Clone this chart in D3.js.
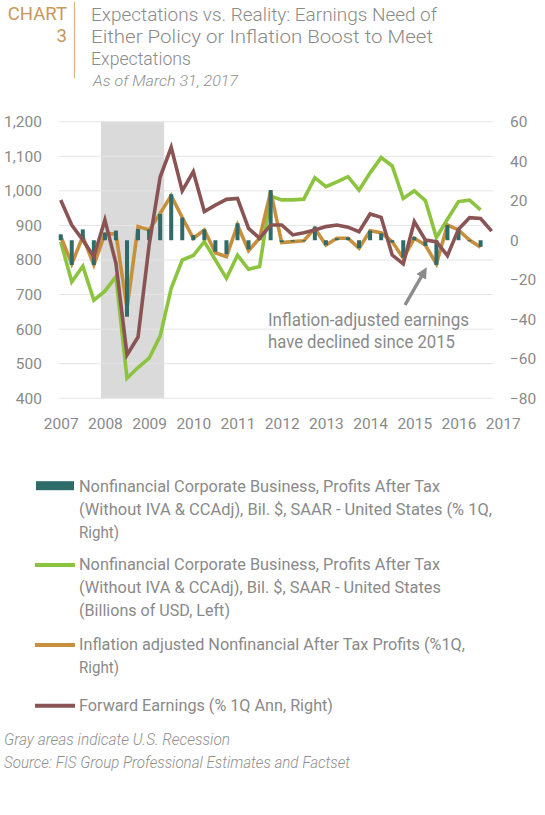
<!DOCTYPE html>
<html><head><meta charset="utf-8">
<script src="https://cdn.jsdelivr.net/npm/d3@7"></script>
<style>
html,body{margin:0;padding:0;background:#fff;}
svg{display:block;}
text{font-family:'Roboto',sans-serif;}
</style></head>
<body>
<svg id="c" width="545" height="815"></svg>
<script>
// ---------- data ----------
const quarters = ["2007Q1","2007Q2","2007Q3","2007Q4","2008Q1","2008Q2","2008Q3","2008Q4",
"2009Q1","2009Q2","2009Q3","2009Q4","2010Q1","2010Q2","2010Q3","2010Q4",
"2011Q1","2011Q2","2011Q3","2011Q4","2012Q1","2012Q2","2012Q3","2012Q4",
"2013Q1","2013Q2","2013Q3","2013Q4","2014Q1","2014Q2","2014Q3","2014Q4",
"2015Q1","2015Q2","2015Q3","2015Q4","2016Q1","2016Q2","2016Q3","2016Q4"];
// Nonfinancial profits after tax, % 1Q (right axis, bars)
const profitsPct = [3,-12.5,5.5,-12.5,3.8,4.9,-38.7,5.7,5.5,13.3,23.3,11.5,2.6,5.5,-5.8,-7,
8.6,-4.6,1,25.4,-1,-0.7,-0.5,6.9,-2.5,1,1.5,-4,4.9,3.5,-1.2,-8.8,1.7,-2.9,-12.5,7.7,5.6,-0.5,-3.3];
// Nonfinancial profits after tax, billions USD (left axis)
const profitsBil = [853,737,782,684,710,752,458,489,516,580,718,800,813,853,800,747,
814,773,781,985,974,974,976,1038,1012,1026,1041,1002,1052,1096,1072,978,1000,972,865,918,969,973,945];
// Inflation adjusted nonfinancial after tax profits, % 1Q (right)
const inflAdj = [2,-12,1.8,-12.5,3.2,3.2,-34.4,6.9,5.2,13.6,22.6,11.5,1,5.2,-6.3,-8.3,
7.7,-5.3,1,24.6,-1.2,-0.7,-0.3,6,-2.4,1,1,-4.1,4.8,3.8,-0.7,-9.1,1,-2.4,-12,7.7,5.2,0.1,-3.6];
// Forward earnings, % 1Q ann (right)
const fwdEarn = [20.4,7.7,0.1,-8.3,10.3,-11.7,-58,-49,-2.5,32,47,25,34.7,14.5,17.8,20.7,
21.2,6,1,7.7,7.7,2.7,3.8,5.2,6.9,7.7,6.6,4.3,13.3,11.6,-7.5,-12,9.4,0.1,-0.7,-7.8,5.6,11.4,11,4.6];
const recession = [2007.91, 2009.34];
const leftTicks = [400,500,600,700,800,900,1000,1100,1200];
const rightTicks = [-80,-60,-40,-20,0,20,40,60];
const yearTicks = [2007,2008,2009,2010,2011,2012,2013,2014,2015,2016,2017];
const titleLines = ["Expectations vs. Reality: Earnings Need of","Either Policy or Inflation Boost to Meet","Expectations"];
const subtitle = "As of March 31, 2017";
const annotation = ["Inflation-adjusted earnings","have declined since 2015"];
const legendItems = [
  {lines:["Nonfinancial Corporate Business, Profits After Tax","(Without IVA & CCAdj), Bil. $, SAAR - United States (% 1Q,","Right)"], color:"#2e6b69", type:"rect"},
  {lines:["Nonfinancial Corporate Business, Profits After Tax","(Without IVA & CCAdj), Bil. $, SAAR - United States","(Billions of USD, Left)"], color:"#8cc43f", type:"line"},
  {lines:["Inflation adjusted Nonfinancial After Tax Profits (%1Q,","Right)"], color:"#c8903e", type:"line"},
  {lines:["Forward Earnings (% 1Q Ann, Right)"], color:"#8b5454", type:"line"}
];
const notes = ["Gray areas indicate U.S. Recession","Source: FIS Group Professional Estimates and Factset"];

// ---------- drawing ----------
const svg = d3.select("#c");
const t = q => +q.slice(0,4) + (+q.slice(5)-1)/4;
const x = d3.scaleLinear().domain([2007,2017]).range([60.7,502.7]);
const yL = d3.scaleLinear().domain([400,1200]).range([398.3,121.7]);
const yR = d3.scaleLinear().domain([-80,60]).range([398.3,121.7]);
const plotL = 59, plotR = 493;

function fit(sel, w){ sel.attr("textLength", w).attr("lengthAdjust","spacingAndGlyphs"); return sel; }

// header
svg.append("text").attr("x",67).attr("y",20).attr("text-anchor","end").attr("font-size",18.5).attr("fill","#c9975c").text("CHART");
svg.append("text").attr("x",67).attr("y",42).attr("text-anchor","end").attr("font-size",18.5).attr("fill","#c9975c").text("3");
svg.append("line").attr("x1",74.5).attr("x2",74.5).attr("y1",2).attr("y2",78).attr("stroke","#d8b689").attr("stroke-width",1.3);
const titleW = [346,342,100];
titleLines.forEach((s,i)=>{
  fit(svg.append("text").attr("x",91).attr("y",20.5+i*22).attr("font-size",18.5).style("font-weight",300).attr("fill","#8a8a8a").text(s), titleW[i]);
});
fit(svg.append("text").attr("x",93).attr("y",86).attr("font-size",15).attr("font-style","italic").style("font-weight",300).attr("fill","#8f8f8f").text(subtitle),145);

// recession
svg.append("rect").attr("x",x(recession[0])).attr("width",x(recession[1])-x(recession[0]))
  .attr("y",yL(1200)).attr("height",yL(400)-yL(1200)).attr("fill","#dadada");

// gridlines
svg.append("g").selectAll("line").data(leftTicks).join("line")
  .attr("x1",plotL).attr("x2",plotR).attr("y1",d=>yL(d)).attr("y2",d=>yL(d))
  .attr("stroke","#e5e5e5").attr("stroke-width",1);

// axes
const axL = svg.append("g").attr("transform",`translate(${plotL},0)`)
  .call(d3.axisLeft(yL).tickValues(leftTicks).tickFormat(d3.format(",")).tickSize(0).tickPadding(17));
const axR = svg.append("g").attr("transform",`translate(${plotR},0)`)
  .call(d3.axisRight(yR).tickValues(rightTicks).tickSize(0).tickPadding(17));
const axB = svg.append("g").attr("transform",`translate(0,415)`)
  .call(d3.axisBottom(x).tickValues(yearTicks).tickFormat(d3.format("d")).tickSize(0).tickPadding(3));
[axL,axR,axB].forEach(a=>{
  a.select(".domain").remove();
  a.selectAll("text").attr("font-size",15.5).attr("fill","#8a8a8a").attr("font-family","'Roboto',sans-serif");
});

// series
const line = (ys) => d3.line().x((d,i)=>x(t(quarters[i]))).y(d=>ys(d));
svg.append("path").datum(profitsBil).attr("d",line(yL)).attr("fill","none")
  .attr("stroke","#8cc43f").attr("stroke-width",3.6).attr("stroke-linejoin","miter");
svg.append("path").datum(inflAdj).attr("d",line(yR)).attr("fill","none")
  .attr("stroke","#c8903e").attr("stroke-width",3.6);
svg.append("g").selectAll("rect").data(profitsPct).join("rect")
  .attr("x",(d,i)=>x(t(quarters[i]))-2).attr("width",4)
  .attr("y",d=>Math.min(yR(d),yR(0))).attr("height",d=>Math.abs(yR(d)-yR(0)))
  .attr("fill","#2e6b69");
svg.append("path").datum(fwdEarn).attr("d",line(yR)).attr("fill","none")
  .attr("stroke","#8b5454").attr("stroke-width",3.6);

// annotation
const annW=[201,187];
annotation.forEach((s,i)=>{
  fit(svg.append("text").attr("x",268).attr("y",326+i*22).attr("font-size",18.5).attr("fill","#8a8a8a").text(s),annW[i]);
});
svg.append("defs").append("marker").attr("id","ah").attr("viewBox","0 0 10 10").attr("refX",5).attr("refY",5)
  .attr("markerWidth",3.2).attr("markerHeight",3.2).attr("orient","auto")
  .append("path").attr("d","M0,0 L10,5 L0,10 z").attr("fill","#8c8c8c");
svg.append("line").attr("x1",405).attr("y1",305).attr("x2",424).attr("y2",272)
  .attr("stroke","#8c8c8c").attr("stroke-width",3.5).attr("marker-end","url(#ah)");

// legend
const legY = [491.7, 570, 650, 710.7];
const legW = [[361,413,40],[361,362,151],[386,40],[254]];
legendItems.forEach((it,k)=>{
  const y0 = legY[k];
  if(it.type==="rect"){
    svg.append("rect").attr("x",36).attr("y",y0-10.5).attr("width",38).attr("height",9).attr("fill",it.color);
  } else {
    svg.append("line").attr("x1",35).attr("x2",75).attr("y1",y0-5).attr("y2",y0-5)
      .attr("stroke",it.color).attr("stroke-width",4);
  }
  it.lines.forEach((s,j)=>{
    fit(svg.append("text").attr("x",79).attr("y",y0+j*23).attr("font-size",17).attr("fill","#8a8a8a").text(s),legW[k][j]);
  });
});
const noteW=[226,346];
notes.forEach((s,i)=>{
  fit(svg.append("text").attr("x",4).attr("y",745+i*23).attr("font-size",16).attr("font-style","italic").style("font-weight",300).attr("fill","#8f8f8f").text(s),noteW[i]);
});
</script>
</body></html>
